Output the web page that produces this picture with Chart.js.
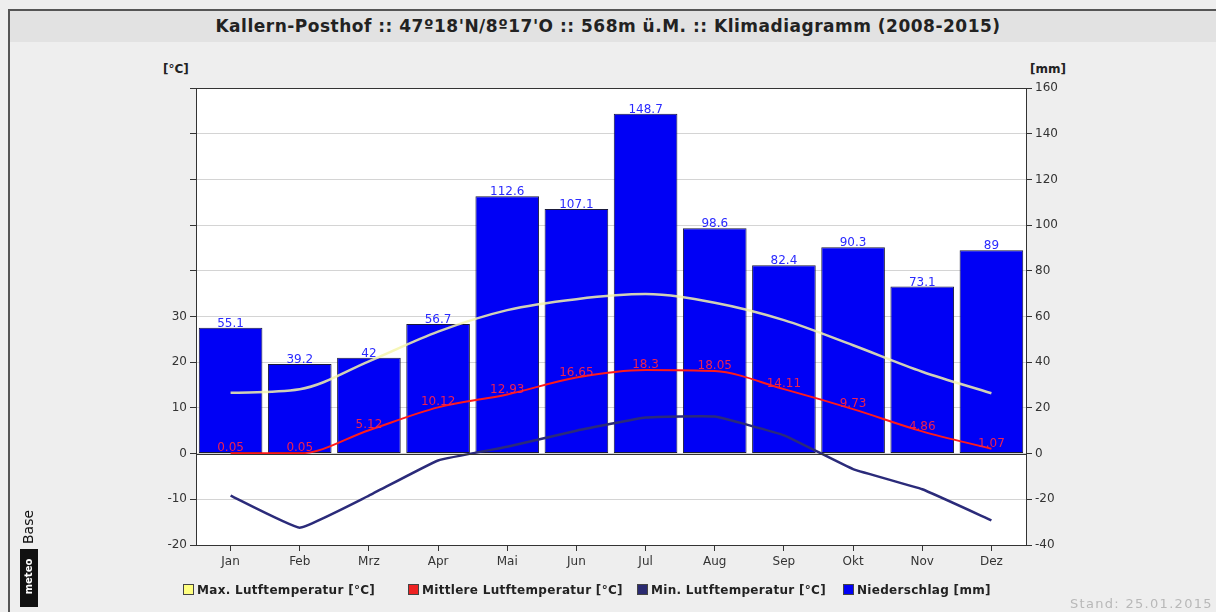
<!DOCTYPE html>
<html>
<head>
<meta charset="utf-8">
<script src="https://cdn.jsdelivr.net/npm/chart.js@4.4.0/dist/chart.umd.min.js"></script>
<style>
  html,body{margin:0;padding:0;background:#eeeeee;width:1216px;height:612px;overflow:hidden;font-family:"DejaVu Sans",Verdana,sans-serif;}
  #frameLeft{position:absolute;left:8px;top:9px;width:2px;height:603px;background:#555;}
  #titlebar{position:absolute;left:8px;top:9px;width:1208px;height:33px;background:#e2e2e2;border-top:2px solid #555;box-sizing:border-box;}
  #title{position:absolute;left:0;width:1216px;text-align:center;top:16px;font:bold 17px "DejaVu Sans",sans-serif;letter-spacing:0.5px;color:#222;}
  canvas{position:absolute;left:0;top:0;}
  .unit{position:absolute;top:62px;font:bold 12px "DejaVu Sans",sans-serif;color:#222;}
  #legend{position:absolute;left:0;top:583px;width:1216px;height:16px;}
  .li{position:absolute;top:0;font:bold 12px "DejaVu Sans",sans-serif;letter-spacing:0.3px;color:#222;white-space:nowrap;line-height:15px;}
  .sw{display:inline-block;width:9px;height:9px;border:1px solid #444;margin-right:3px;vertical-align:-1px;}
  #stand{position:absolute;left:1070px;top:596px;font:13px "DejaVu Sans",sans-serif;letter-spacing:1.3px;color:#b8b8b8;}
  #logo{position:absolute;left:18px;top:505px;width:22px;height:104px;}
  #logo .base{position:absolute;left:-12px;top:14px;transform:rotate(-90deg);font:14px "DejaVu Sans",sans-serif;color:#111;width:44px;text-align:center;}
  #logo .box{position:absolute;left:2px;top:44px;width:18px;height:58px;background:#111;}
  #logo .meteo{position:absolute;left:-18px;top:66px;transform:rotate(-90deg);font:bold 10px "DejaVu Sans",sans-serif;color:#fff;width:56px;text-align:center;}
</style>
</head>
<body>
<div id="titlebar"></div>
<div id="frameLeft"></div>
<div id="title">Kallern-Posthof :: 47º18'N/8º17'O :: 568m ü.M. :: Klimadiagramm (2008-2015)</div>
<div class="unit" style="left:163px">[°C]</div>
<div class="unit" style="left:1030px">[mm]</div>
<canvas id="c" width="1216" height="612"></canvas>
<div id="legend"></div>
<div id="stand">Stand: 25.01.2015</div>
<div id="logo"><div class="base">Base</div><div class="box"></div><div class="meteo">meteo</div></div>
<script>
const months = ['Jan','Feb','Mrz','Apr','Mai','Jun','Jul','Aug','Sep','Okt','Nov','Dez'];
const precipitation = [55.1, 39.2, 42, 56.7, 112.6, 107.1, 148.7, 98.6, 82.4, 90.3, 73.1, 89];
const tempMean = [0.05, 0.05, 5.12, 10.12, 12.93, 16.65, 18.3, 18.05, 14.11, 9.73, 4.86, 1.07];
const tempMax = [13.3, 14.1, 20.2, 26.7, 31.4, 33.8, 34.9, 33.0, 29.2, 23.7, 17.9, 13.2];
const tempMin = [-9.2, -16.2, -9.2, -1.5, 1.5, 5.0, 7.9, 8.1, 4.0, -3.4, -7.8, -14.6];
const labelMax = 'Max. Lutftemperatur [°C]';
const labelMean = 'Mittlere Lutftemperatur [°C]';
const labelMin = 'Min. Lutftemperatur [°C]';
const labelPrecip = 'Niederschlag [mm]';

const areaPlugin = {
  id: 'area',
  beforeDraw(chart) {
    const {ctx, chartArea: a} = chart;
    ctx.save();
    ctx.fillStyle = '#ffffff';
    ctx.fillRect(a.left, a.top, a.right - a.left, a.bottom - a.top);
    ctx.restore();
  },
  afterDatasetsDraw(chart) {
    const {ctx, chartArea: a} = chart;
    ctx.save();
    const y0 = chart.scales.y.getPixelForValue(0);
    ctx.strokeStyle = '#333';
    ctx.lineWidth = 1;
    ctx.beginPath();
    ctx.moveTo(a.left, Math.round(y0) + 0.5);
    ctx.lineTo(a.right, Math.round(y0) + 0.5);
    ctx.stroke();
    ctx.strokeRect(Math.round(a.left) + 0.5, Math.round(a.top) + 0.5, Math.round(a.right - a.left), Math.round(a.bottom - a.top));
    ctx.font = '12px "DejaVu Sans", sans-serif';
    ctx.textAlign = 'center';
    ctx.textBaseline = 'bottom';
    chart.getDatasetMeta(3).data.forEach((el, i) => {
      ctx.fillStyle = '#2a2aff';
      ctx.fillText(String(precipitation[i]), el.x, el.y + 2);
    });
    chart.getDatasetMeta(1).data.forEach((el, i) => {
      ctx.fillStyle = '#ee2050';
      ctx.fillText(String(tempMean[i]), el.x, el.y + 1);
    });
    ctx.restore();
  }
};

const chart = new Chart(document.getElementById('c'), {
  data: {
    labels: months,
    datasets: [
      {type: 'line', label: labelMax, data: tempMax, yAxisID: 'y', borderColor: 'rgba(245,245,170,0.85)', backgroundColor: '#ffff80', borderWidth: 2.5, pointRadius: 0, cubicInterpolationMode: 'monotone', order: 1},
      {type: 'line', label: labelMean, data: tempMean, yAxisID: 'y', borderColor: '#ff1a1a', backgroundColor: '#ee2222', borderWidth: 2, pointRadius: 0, cubicInterpolationMode: 'monotone', order: 1},
      {type: 'line', label: labelMin, data: tempMin, yAxisID: 'y', borderColor: '#2b2b7a', backgroundColor: '#2a2a70', borderWidth: 2.5, pointRadius: 0, tension: 0.1, order: 1},
      {type: 'bar', label: labelPrecip, data: precipitation, yAxisID: 'y2', backgroundColor: '#0000f5', borderColor: '#1a1a3a', borderWidth: 1, borderSkipped: false, barPercentage: 0.92, categoryPercentage: 1.0, order: 2}
    ]
  },
  options: {
    responsive: false,
    animation: false,
    layout: {padding: {left: 150, right: 140, top: 88, bottom: 37}},
    plugins: {legend: {display: false}, tooltip: {enabled: false}, title: {display: false}},
    scales: {
      x: {
        offset: true,
        grid: {offset: false, drawOnChartArea: false, tickLength: 6, tickColor: '#333'},
        border: {display: false},
        ticks: {font: {family: '"DejaVu Sans", sans-serif', size: 12}, color: '#333', padding: 4, maxRotation: 0},
        afterFit(s) { s.height = 30; }
      },
      y: {
        position: 'left', min: -20, max: 80,
        grid: {color: '#d4d4d4', tickColor: '#333', tickLength: 6},
        border: {display: false},
        ticks: {stepSize: 10, font: {family: '"DejaVu Sans", sans-serif', size: 12}, color: '#333', padding: 3,
          callback: v => (v <= 30 ? String(v) : '')},
        afterFit(s) { s.width = 46; }
      },
      y2: {
        position: 'right', min: -40, max: 160,
        grid: {drawOnChartArea: false, tickColor: '#333', tickLength: 6},
        border: {display: false},
        ticks: {stepSize: 20, font: {family: '"DejaVu Sans", sans-serif', size: 12}, color: '#333', padding: 3},
        afterFit(s) { s.width = 50; }
      }
    }
  },
  plugins: [areaPlugin]
});

const legendX = [183, 408, 637, 843];
const legend = document.getElementById('legend');
chart.data.datasets.forEach((ds, i) => {
  const d = document.createElement('div');
  d.className = 'li';
  d.style.left = legendX[i] + 'px';
  d.innerHTML = '<span class="sw" style="background:' + ds.backgroundColor + '"></span>' + ds.label;
  legend.appendChild(d);
});
</script>
</body>
</html>
